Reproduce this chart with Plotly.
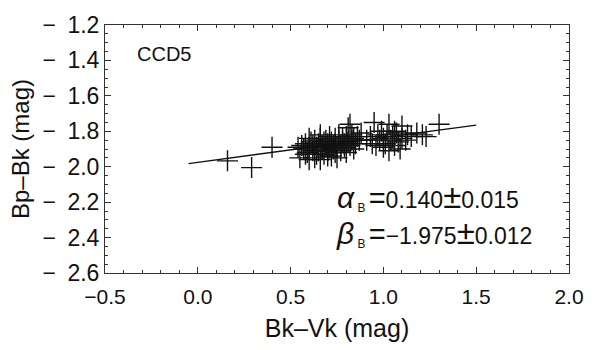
import plotly.graph_objects as go

# Data points (Bk-Vk, Bp-Bk)
bk_vk = [0.16, 0.29, 0.40,
         0.55, 0.56, 0.57, 0.58, 0.59, 0.60, 0.60, 0.61, 0.62, 0.62, 0.63, 0.64, 0.64, 0.65, 0.65, 0.66,
         0.66, 0.67, 0.67, 0.68, 0.68, 0.69, 0.69, 0.70, 0.70, 0.71, 0.71, 0.72, 0.72, 0.73, 0.73, 0.74,
         0.74, 0.75, 0.75, 0.76, 0.76, 0.77, 0.77, 0.78, 0.78, 0.79, 0.79, 0.80, 0.80, 0.81, 0.81, 0.82,
         0.82, 0.83, 0.83, 0.84, 0.84, 0.85, 0.86, 0.87, 0.88, 0.60, 0.63, 0.58, 0.66, 0.70, 0.74, 0.54,
         0.91, 0.93, 0.95, 0.96, 0.97, 0.98, 0.99, 1.00, 1.01, 1.02, 1.03, 1.03, 1.04, 1.05, 1.06, 1.07,
         1.08, 1.09, 1.10, 1.10, 1.12, 1.13, 1.15, 1.18, 1.21, 1.23, 1.30, 0.94, 1.00, 1.06]
bp_bk = [-1.967, -2.005, -1.89,
         -1.95, -1.88, -1.90, -1.87, -1.92, -1.89, -1.96, -1.86, -1.91, -1.88, -1.85, -1.93, -1.89, -1.87, -1.91, -1.96,
         -1.84, -1.90, -1.88, -1.86, -1.93, -1.89, -1.85, -1.91, -1.87, -1.83, -1.89, -1.94, -1.86, -1.88, -1.90, -1.84,
         -1.87, -1.95, -1.89, -1.85, -1.82, -1.88, -1.91, -1.86, -1.84, -1.89, -1.87, -1.83, -1.92, -1.78, -1.86, -1.76,
         -1.88, -1.85, -1.82, -1.90, -1.84, -1.87, -1.83, -1.85, -1.81, -1.84, -1.95, -1.93, -1.82, -1.94, -1.92, -1.89,
         -1.85, -1.83, -1.75, -1.88, -1.82, -1.85, -1.80, -1.84, -1.87, -1.82, -1.76, -1.91, -1.85, -1.83, -1.88, -1.81,
         -1.86, -1.90, -1.77, -1.84, -1.85, -1.82, -1.83, -1.81, -1.82, -1.83, -1.76, -1.87, -1.89, -1.80]

# Fit parameters
alpha_b = 0.140
alpha_err = 0.015
beta_b = -1.975
beta_err = 0.012
fit_x = [-0.05, 1.5]
fit_y = [beta_b + alpha_b * v for v in fit_x]

x_ticks = [-0.5, 0.0, 0.5, 1.0, 1.5, 2.0]
x_ticktext = ["\u22120.5", "0.0", "0.5", "1.0", "1.5", "2.0"]
y_ticks = [-1.2, -1.4, -1.6, -1.8, -2.0, -2.2, -2.4, -2.6]
y_ticktext = ["\u2212\u20021.2", "\u2212\u20021.4", "\u2212\u20021.6", "\u2212\u20021.8",
              "\u2212\u20022.0", "\u2212\u20022.2", "\u2212\u20022.4", "\u2212\u20022.6"]

FONT = "Liberation Sans, Arial, sans-serif"


def fit_label(sym, val, err):
    return ("<span style='font-size:30px'><i>%s</i></span>"
            "<span style='font-size:17px'><sub> B </sub></span>"
            "<span style='font-size:29px'>=</span>%s"
            "<span style='font-size:33px'>\u00b1</span>%s" % (
                sym, ("%.3f" % val).replace("-", "\u2212"), "%.3f" % err))


fig = go.Figure()
fig.add_trace(go.Scatter(x=fit_x, y=fit_y, mode="lines",
                         line=dict(color="#111", width=1.3), showlegend=False))
fig.add_trace(go.Scatter(x=bk_vk, y=bp_bk, mode="markers",
                         marker=dict(symbol="cross-thin", size=15,
                                     line=dict(color="#111", width=1.4)),
                         showlegend=False))

fig.update_layout(
    width=596, height=350,
    margin=dict(l=105, r=16, t=15, b=74),
    paper_bgcolor="white", plot_bgcolor="white",
    font=dict(family=FONT, color="#111", size=22),
    xaxis=dict(range=[-0.5, 2.0], tickvals=x_ticks, ticktext=x_ticktext,
               ticks="inside", ticklen=6, tickwidth=1, tickcolor="#333",
               minor=dict(ticks="inside", dtick=0.1, ticklen=3, tickcolor="#333"),
               showline=True, linecolor="#333", linewidth=1, mirror="allticks",
               showgrid=False, zeroline=False, tickfont=dict(size=21),
               ticklabelstandoff=5,
               title=dict(text="Bk\u2013Vk (mag)", font=dict(size=25), standoff=12)),
    yaxis=dict(range=[-2.6, -1.2], tickvals=y_ticks, ticktext=y_ticktext,
               ticks="inside", ticklen=6, tickwidth=1, tickcolor="#333",
               minor=dict(ticks="inside", dtick=0.05, ticklen=3, tickcolor="#333"),
               showline=True, linecolor="#333", linewidth=1, mirror="allticks",
               showgrid=False, zeroline=False, tickfont=dict(size=23),
               ticklabeloverflow="allow",
               title=dict(text="Bp\u2013Bk (mag)", font=dict(size=24), standoff=6)),
    annotations=[
        dict(x=0.065, y=0.885, xref="paper", yref="paper", text="CCD5", showarrow=False,
             xanchor="left", yanchor="middle", font=dict(size=20)),
        dict(x=0.496, y=0.31, xref="paper", yref="paper",
             text=fit_label("\u03b1", alpha_b, alpha_err), showarrow=False,
             xanchor="left", yanchor="middle", font=dict(size=23)),
        dict(x=0.493, y=0.165, xref="paper", yref="paper",
             text=fit_label("\u03b2", beta_b, beta_err), showarrow=False,
             xanchor="left", yanchor="middle", font=dict(size=23)),
    ],
)

# remove the default page margin so the figure fills the 596x350 window exactly
fig.write_html("out.html", config={"displayModeBar": False},
               post_script="document.body.style.margin='0';")
